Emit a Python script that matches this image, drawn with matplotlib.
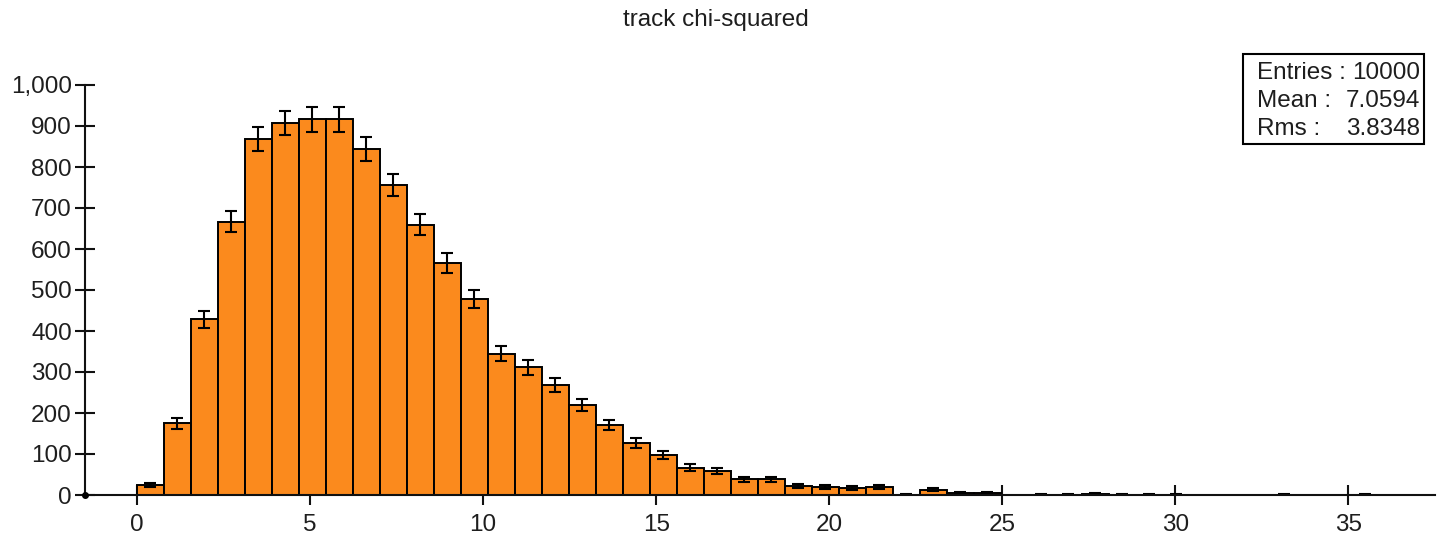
import numpy as np
import matplotlib.pyplot as plt
from matplotlib.ticker import FuncFormatter

plt.rcParams['font.family'] = ['Liberation Sans', 'DejaVu Sans']

# histogram: 50 bins of width 0.78 starting at 0
bin_width = 0.78
counts = [25, 175, 429, 667, 868, 907, 916, 916, 844, 756,
          659, 566, 477, 345, 311, 268, 219, 171, 127, 97,
          67, 58, 38, 38, 23, 19, 17, 19, 1, 13,
          6, 6, 0, 1, 1, 3, 1, 1, 1, 0,
          0, 0, 1, 0, 0, 1, 0, 0, 0, 0]
title = "track chi-squared"
stat_labels = ["Entries :", "Mean :", "Rms :"]
stat_values = ["10000", "7.0594", "3.8348"]
x_ticks = [0, 5, 10, 15, 20, 25, 30, 35]
y_ticks = [0, 100, 200, 300, 400, 500, 600, 700, 800, 900, 1000]

FS = 17.5
TXT = '#1e1e1e'

counts = np.array(counts, dtype=float)
edges = np.arange(len(counts)) * bin_width
filled = counts > 0

fig = plt.figure(figsize=(14.41, 5.39), dpi=100)
ax = fig.add_axes([85 / 1441, 44 / 539, 1350 / 1441, 410 / 539])

orange = '#fb8a1d'
ax.bar(edges[filled], counts[filled], width=bin_width, align='edge',
       color=orange, edgecolor='black', linewidth=1.4, zorder=2)
centers = edges[filled] + bin_width / 2
ax.errorbar(centers, counts[filled], yerr=np.sqrt(counts[filled]),
            fmt='none', ecolor='black', elinewidth=1.5, capsize=4.6,
            capthick=1.5, zorder=3)

ax.set_xlim(-1.5, 37.5)
ax.set_ylim(0, 1000)
ax.set_xticks(x_ticks)
ax.set_yticks(y_ticks)
ax.yaxis.set_major_formatter(FuncFormatter(lambda v, p: f"{v:,.0f}"))

for side in ['top', 'right']:
    ax.spines[side].set_visible(False)
for side in ['left', 'bottom']:
    ax.spines[side].set_linewidth(1.5)
    ax.spines[side].set_color('#111111')
    ax.spines[side].set_zorder(4)

ax.tick_params(axis='both', direction='inout', length=15, width=1.5,
               color='#111111', labelsize=FS, labelcolor=TXT)
ax.tick_params(axis='y', pad=2)
ax.tick_params(axis='x', pad=6)

# small dot at the axis corner
ax.plot([0], [0], 'o', color='black', ms=4, transform=ax.transAxes,
        clip_on=False, zorder=5)

fig.text(716 / 1441, 1 - 20 / 539, title, ha='center', va='center',
         fontsize=FS, color=TXT)

# statistics box
box = plt.Rectangle((1243 / 1441, 1 - 144 / 539), 181 / 1441, 90 / 539,
                    transform=fig.transFigure, fill=False,
                    edgecolor='black', linewidth=1.5)
fig.patches.append(box)
for i, (lab, val) in enumerate(zip(stat_labels, stat_values)):
    y = 1 - (73 + 28 * i) / 539
    fig.text(1257 / 1441, y, lab, ha='left', va='center',
             fontsize=FS, color=TXT)
    fig.text(1420 / 1441, y, val, ha='right', va='center',
             fontsize=FS, color=TXT)

fig.savefig('out.png', dpi=100)
